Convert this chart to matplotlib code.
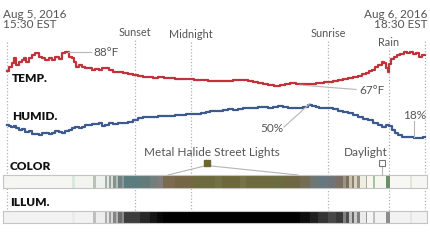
import matplotlib
matplotlib.use("Agg")
import matplotlib.pyplot as plt

plt.rcParams['font.family'] = ['Lato', 'DejaVu Sans']

W, H = 430, 242

# sensor readings, x = sample index
temp_t = [0, 3, 6, 8, 10, 13, 16, 18, 20, 23, 26, 30, 33, 36, 40, 43, 46, 50, 53, 56,
          60, 63, 66, 68, 70, 73, 76, 80, 83, 86, 90, 93, 96, 100, 103, 108, 113, 118, 123, 128,
          133, 138, 143, 148, 153, 160, 165, 170, 176, 183, 190, 198, 203, 208, 215, 223, 229, 233, 238, 243,
          248, 253, 258, 263, 270, 275, 280, 286, 291, 296, 301, 306, 311, 315, 319, 323, 328, 333, 338, 343,
          348, 353, 357, 360, 363, 366, 369, 373, 376, 378, 380, 381, 383, 385, 388, 391, 395, 398, 401, 404,
          407, 410, 413, 416, 418]
temp_f = [76.3, 78.7, 81.2, 84.3, 80.0, 81.8, 83.1, 84.3, 81.8, 84.3, 86.1, 87.4, 84.9, 84.3, 83.1, 84.3, 83.1, 84.9, 83.7, 87.4,
          88.0, 84.9, 84.3, 81.8, 78.7, 80.0, 78.7, 78.1, 78.1, 76.9, 77.5, 76.9, 78.1, 78.1, 76.9, 75.6, 75.6, 75.0, 74.4, 73.8,
          73.2, 72.6, 72.6, 71.9, 72.6, 71.9, 71.9, 71.3, 71.3, 71.3, 70.7, 70.7, 70.1, 70.1, 70.1, 70.1, 70.7, 70.7, 70.7, 70.1,
          69.5, 68.9, 68.2, 67.6, 67.0, 67.6, 68.2, 68.9, 68.2, 68.2, 68.2, 68.2, 68.9, 68.9, 69.5, 69.5, 70.1, 70.7, 71.3, 71.9,
          72.6, 73.2, 74.4, 75.0, 76.3, 76.9, 78.7, 80.0, 81.8, 81.2, 78.1, 75.6, 80.6, 83.7, 84.9, 86.1, 86.8, 88.0, 87.4, 88.0,
          86.8, 87.4, 85.0, 86.2, 86.1]

hum_t = [0, 3, 5, 8, 10, 13, 16, 20, 23, 26, 30, 33, 37, 40, 43, 46, 50, 53, 56, 60,
         63, 66, 70, 73, 76, 80, 83, 86, 90, 93, 96, 100, 103, 108, 113, 118, 123, 128, 133, 138,
         143, 148, 153, 159, 165, 171, 176, 181, 186, 191, 196, 201, 205, 209, 213, 218, 223, 228, 233, 238,
         243, 248, 253, 258, 263, 268, 273, 278, 283, 288, 293, 298, 303, 307, 310, 313, 318, 323, 328, 333,
         338, 343, 348, 353, 358, 363, 368, 373, 377, 381, 383, 386, 389, 393, 397, 401, 405, 409, 413, 418]
hum_pct = [30.6, 29.6, 28.6, 29.6, 27.7, 25.7, 26.7, 23.8, 24.8, 21.8, 21.8, 20.9, 22.8, 22.8, 21.8, 22.8, 24.8, 23.8, 22.8, 24.8,
           25.7, 27.7, 28.6, 27.7, 28.6, 30.6, 30.6, 31.6, 31.6, 32.5, 29.6, 30.6, 32.5, 31.6, 32.5, 32.5, 33.5, 35.4, 37.4, 38.3,
           38.3, 38.3, 39.3, 39.3, 39.3, 40.3, 40.3, 41.3, 41.3, 41.3, 42.2, 43.2, 44.2, 44.2, 44.2, 45.1, 46.1, 45.1, 46.1, 47.1,
           47.1, 47.1, 48.1, 48.1, 47.1, 48.1, 49.0, 48.1, 47.1, 47.1, 47.1, 48.1, 50.0, 49.0, 48.1, 47.1, 47.1, 47.1, 46.1, 44.2,
           43.2, 42.2, 40.3, 38.3, 36.4, 35.4, 32.5, 30.6, 28.6, 30.6, 29.6, 25.7, 22.8, 20.9, 18.9, 18.9, 18.9, 18.0, 18.0, 18.9]

# colour / illumination strips: segment edges (sample index)
band_edges = [-4, 65, 68, 86, 89, 98, 100, 102, 104, 106, 109, 111, 115, 117, 133, 143, 150, 156, 168, 186,
              208, 215, 233, 239, 263, 278, 293, 303, 311, 321, 329, 336, 339, 342, 345, 347, 350, 353, 359, 360,
              366, 368, 379, 383, 403, 405, 420]
band_colors = ['#f5f6f2', '#d8eadb', '#f3f4f0', '#b9c2b6', '#eef0ec', '#a5afa8', '#e5e8e3', '#98a39d', '#d9ddd8', '#84938f',
               '#b5bdb9', '#6f8482', '#8a9896', '#5b7c7e', '#627b7a', '#72807d', '#807d7a', '#7a6a50', '#776548', '#6d6a3e',
               '#737045', '#6c683c', '#757245', '#6e6a3e', '#6c6b40', '#6f6642', '#756c55', '#6d7670', '#667780', '#6f7378',
               '#7a6f66', '#9c9480', '#7a7060', '#c9c2ac', '#8c8270', '#d8d2bf', '#9a9280', '#eeeee4', '#a8ab9a', '#f7f7ee',
               '#a9c0a3', '#f6f7ee', '#6e8e6b', '#f7f8f3', '#e2e6d8', '#f6f7f2']
illum = [0.95, 0.92, 0.95, 0.75, 0.93, 0.68, 0.90, 0.62, 0.84, 0.52, 0.70, 0.42, 0.55, 0.24, 0.15, 0.08, 0.03, 0.0, 0.0, 0.0,
         0.0, 0.0, 0.0, 0.0, 0.0, 0.0, 0.05, 0.12, 0.20, 0.28, 0.22, 0.50, 0.30, 0.75, 0.40, 0.80, 0.50, 0.92, 0.60, 0.96,
         0.75, 0.95, 0.55, 0.95, 0.90, 0.95]

# events (sample index) and label heights
events = ['Sunset', 'Midnight', 'Sunrise', 'Rain']
event_t = [128, 184, 321, 382]
event_top = [40, 42, 41, 50]
start_t, end_t = 0, 418

RED = '#c1323a'
BLUE = '#3d5a8e'
GREY = '#555555'
LEAD = '#b5b5b5'

x0, x1 = -4, 420
L, Wd = 3 / W, 424 / W


def box(top, bottom):
    return [L, 1 - bottom / H, Wd, (bottom - top) / H]


fig = plt.figure(figsize=(W / 100, H / 100), dpi=100)

# background axis in pixel y for guides
bg = fig.add_axes([L, 0, Wd, 1], zorder=0)
bg.set_xlim(x0, x1)
bg.set_ylim(H, 0)
bg.axis('off')

for t, top in zip([start_t] + event_t + [end_t], [42] + event_top + [41]):
    bg.plot([t, t], [top, 223], color='#b0b0b0', lw=0.9, ls=(0, (1, 1.6)), zorder=0)

# temperature
ax_t = fig.add_axes(box(40, 100), zorder=1)
ax_t.plot(temp_t, temp_f, color=RED, lw=1.6, drawstyle='steps-mid')
ax_t.set_xlim(x0, x1)
ax_t.set_ylim(58.4, 95.4)
ax_t.axis('off')

# humidity
ax_h = fig.add_axes(box(95, 145), zorder=1)
ax_h.plot(hum_t, hum_pct, color=BLUE, lw=1.6, drawstyle='steps-mid')
ax_h.set_xlim(x0, x1)
ax_h.set_ylim(11.2, 59.7)
ax_h.axis('off')

# strips
lefts = band_edges[:-1]
widths = [b - a for a, b in zip(band_edges[:-1], band_edges[1:])]
ax_c = fig.add_axes(box(175, 188), zorder=1)
ax_c.bar(lefts, [1] * len(lefts), width=widths, align='edge', color=band_colors, lw=0)
ax_i = fig.add_axes(box(211, 223), zorder=1)
ax_i.bar(lefts, [1] * len(lefts), width=widths, align='edge',
         color=[str(v) for v in illum], lw=0)
for a in (ax_c, ax_i):
    a.set_xlim(x0, x1)
    a.set_ylim(0, 1)
    a.set_xticks([])
    a.set_yticks([])
    for s in a.spines.values():
        s.set_color('#c4c4c4')
        s.set_linewidth(0.8)

# text
top = fig.add_axes([L, 0, Wd, 1], zorder=2)
top.set_xlim(x0, x1)
top.set_ylim(H, 0)
top.axis('off')

top.text(-4, 15, 'Aug 5, 2016', fontsize=8.5, color=GREY, va='center', ha='left')
top.text(-4, 24.5, '15:30 EST', fontsize=8.5, color=GREY, va='center', ha='left')
top.text(420, 15, 'Aug 6, 2016', fontsize=8.5, color=GREY, va='center', ha='right')
top.text(420, 24.5, '18:30 EST', fontsize=8.5, color=GREY, va='center', ha='right')

for name, t, y in zip(events, event_t, [33, 34.5, 33.5, 42]):
    top.text(t, y, name, fontsize=7.8, color=GREY, va='center', ha='center')

for name, x, y in zip(['TEMP.', 'HUMID.', 'COLOR', 'ILLUM.'], [5, 5, 3, 3], [79, 116.5, 166, 203]):
    top.text(x, y, name, fontsize=8.6, fontweight='heavy', color='#111111', va='center', ha='left')

# value callouts
top.plot([61, 84], [52, 52], color=LEAD, lw=0.8)
top.text(86, 53, '88°F', fontsize=8.5, color=GREY, va='center', ha='left')
top.plot([293, 349], [85, 89.5], color=LEAD, lw=0.8)
top.text(352, 91, '67°F', fontsize=8.5, color=GREY, va='center', ha='left')
top.plot([277, 303], [127, 103.5], color=LEAD, lw=0.8)
top.text(276, 129, '50%', fontsize=8.5, color=GREY, va='center', ha='right')
top.plot([407, 407], [121, 137], color=LEAD, lw=0.8)
top.text(408, 115.5, '18%', fontsize=8.5, color=GREY, va='center', ha='center')

# light source callouts
top.text(205, 153, 'Metal Halide Street Lights', fontsize=8.5, color=GREY, va='center', ha='center')
top.plot([161, 199.5, 291], [175, 165.5, 175], color=LEAD, lw=0.8)
top.plot([199.5], [162.5], marker='s', ms=4, mfc='#6b6a2e', mec='#6b6a2e')
top.text(359, 153, 'Daylight', fontsize=8.5, color=GREY, va='center', ha='center')
top.plot([375, 375], [165.5, 175], color=LEAD, lw=0.8)
top.plot([375], [162.5], marker='s', ms=4, mfc='white', mec='#777777', mew=0.8)

fig.savefig('out.png', dpi=100)
